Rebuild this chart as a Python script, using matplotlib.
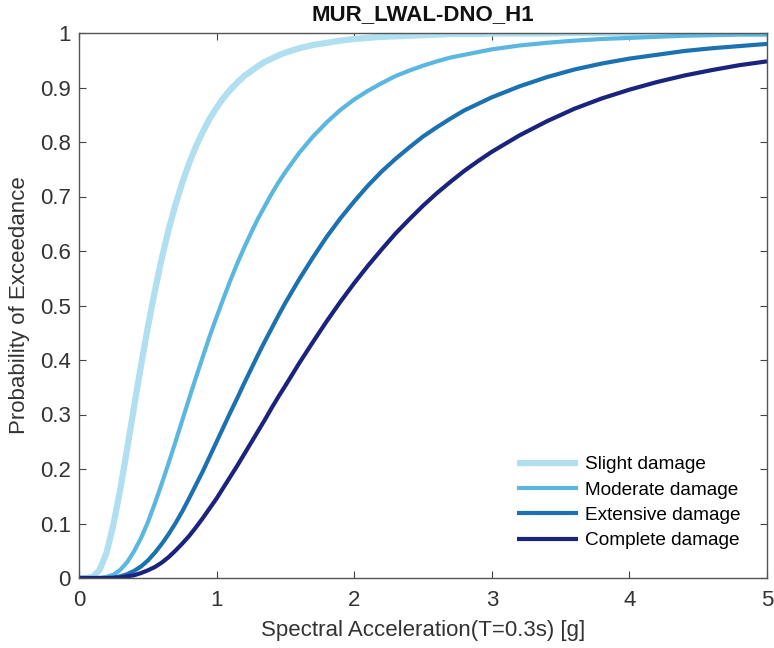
import matplotlib
matplotlib.use("Agg")
import matplotlib.pyplot as plt

# Spectral acceleration values (g) at which the curves were read
sa = [0.0, 0.05, 0.1, 0.15, 0.2, 0.25, 0.3, 0.35, 0.4, 0.45, 0.5, 0.55, 0.6, 0.65, 0.7, 0.75,
      0.8, 0.85, 0.9, 0.95, 1.0, 1.05, 1.1, 1.15, 1.2, 1.25, 1.3, 1.35, 1.4, 1.45, 1.5,
      1.6, 1.7, 1.8, 1.9, 2.0, 2.1, 2.2, 2.3, 2.4, 2.5, 2.6, 2.7, 2.8, 2.9, 3.0,
      3.2, 3.4, 3.6, 3.8, 4.0, 4.2, 4.4, 4.6, 4.8, 5.0]

slight = [0.000, 0.000, 0.002, 0.015, 0.046, 0.098, 0.163, 0.237, 0.314, 0.389, 0.460, 0.525, 0.585, 0.638,
          0.684, 0.725, 0.761, 0.792, 0.819, 0.843, 0.863, 0.881, 0.896, 0.909, 0.921, 0.930, 0.939, 0.947,
          0.953, 0.959, 0.964, 0.972, 0.978, 0.982, 0.986, 0.989, 0.991, 0.993, 0.994, 0.995, 0.996, 0.997,
          0.998, 0.998, 0.998, 0.999, 0.999, 0.999, 1.000, 1.000, 1.000, 1.000, 1.000, 1.000, 1.000, 1.000]
moderate = [0.000, 0.000, 0.000, 0.000, 0.002, 0.006, 0.015, 0.029, 0.049, 0.073, 0.102, 0.136, 0.172, 0.210,
            0.249, 0.289, 0.329, 0.368, 0.406, 0.444, 0.479, 0.513, 0.546, 0.577, 0.606, 0.633, 0.659, 0.682,
            0.705, 0.726, 0.745, 0.780, 0.810, 0.836, 0.859, 0.878, 0.894, 0.908, 0.921, 0.931, 0.940, 0.948,
            0.955, 0.960, 0.965, 0.970, 0.977, 0.982, 0.986, 0.989, 0.991, 0.993, 0.995, 0.996, 0.997, 0.997]
extensive = [0.000, 0.000, 0.000, 0.000, 0.000, 0.001, 0.003, 0.007, 0.013, 0.021, 0.032, 0.046, 0.062, 0.080,
             0.100, 0.122, 0.146, 0.171, 0.196, 0.223, 0.250, 0.277, 0.304, 0.330, 0.357, 0.383, 0.409, 0.434,
             0.458, 0.482, 0.505, 0.548, 0.588, 0.626, 0.660, 0.691, 0.720, 0.746, 0.769, 0.790, 0.810, 0.827,
             0.843, 0.858, 0.870, 0.882, 0.902, 0.919, 0.933, 0.944, 0.953, 0.960, 0.967, 0.972, 0.976, 0.980]
complete = [0.000, 0.000, 0.000, 0.000, 0.000, 0.000, 0.001, 0.003, 0.005, 0.009, 0.014, 0.020, 0.028, 0.038,
            0.050, 0.063, 0.077, 0.093, 0.110, 0.128, 0.146, 0.166, 0.186, 0.206, 0.227, 0.248, 0.269, 0.290,
            0.312, 0.333, 0.353, 0.394, 0.433, 0.471, 0.507, 0.541, 0.573, 0.603, 0.632, 0.658, 0.683, 0.706,
            0.727, 0.747, 0.765, 0.782, 0.812, 0.838, 0.861, 0.880, 0.896, 0.910, 0.922, 0.932, 0.941, 0.948]

labels = ["Slight damage", "Moderate damage", "Extensive damage", "Complete damage"]
x_ticks = [0, 1, 2, 3, 4, 5]
y_ticks = [0, 0.1, 0.2, 0.3, 0.4, 0.5, 0.6, 0.7, 0.8, 0.9, 1]
y_tick_labels = ["0", "0.1", "0.2", "0.3", "0.4", "0.5", "0.6", "0.7", "0.8", "0.9", "1"]

colors = ["#b0dff0", "#5bb7e0", "#1c72b0", "#1a237e"]
widths = [4.5, 3.0, 3.0, 3.0]
series = [slight, moderate, extensive, complete]

plt.rcParams['font.family'] = ['Liberation Sans', 'DejaVu Sans']
fig = plt.figure(figsize=(7.74, 6.48), dpi=100)
ax = fig.add_axes([79/774, 70/648, 688/774, 545/648])
for y, lab, c, w in zip(series, labels, colors, widths):
    ax.plot(sa, y, color=c, lw=w, label=lab, solid_capstyle='butt', solid_joinstyle='round')
ax.set_xlim(0, 5)
ax.set_ylim(0, 1)
ax.set_xticks(x_ticks)
ax.set_yticks(y_ticks)
ax.set_yticklabels(y_tick_labels)
ax.tick_params(direction='in', top=True, right=True, length=5, width=0.8, color='#444444',
               labelcolor='#333333', labelsize=16)
ax.tick_params(axis='x', pad=9)
ax.tick_params(axis='y', pad=6)
for s in ax.spines.values():
    s.set_color('#555555')
    s.set_linewidth(1.0)
ax.set_xlabel("Spectral Acceleration(T=0.3s) [g]", fontsize=16, color='#333333', labelpad=6)
ax.set_ylabel("Probability of Exceedance", fontsize=16, color='#333333', labelpad=7)
ax.set_title("MUR_LWAL-DNO_H1", fontsize=16, fontweight='bold', color='#111111', pad=9)
ax.legend(loc='lower right', bbox_to_anchor=(0.987, 0.021), frameon=False, fontsize=13.7,
          handlelength=3.2, handletextpad=0.4, labelspacing=0.42, borderpad=0.4)
fig.savefig("out.png", dpi=100)
